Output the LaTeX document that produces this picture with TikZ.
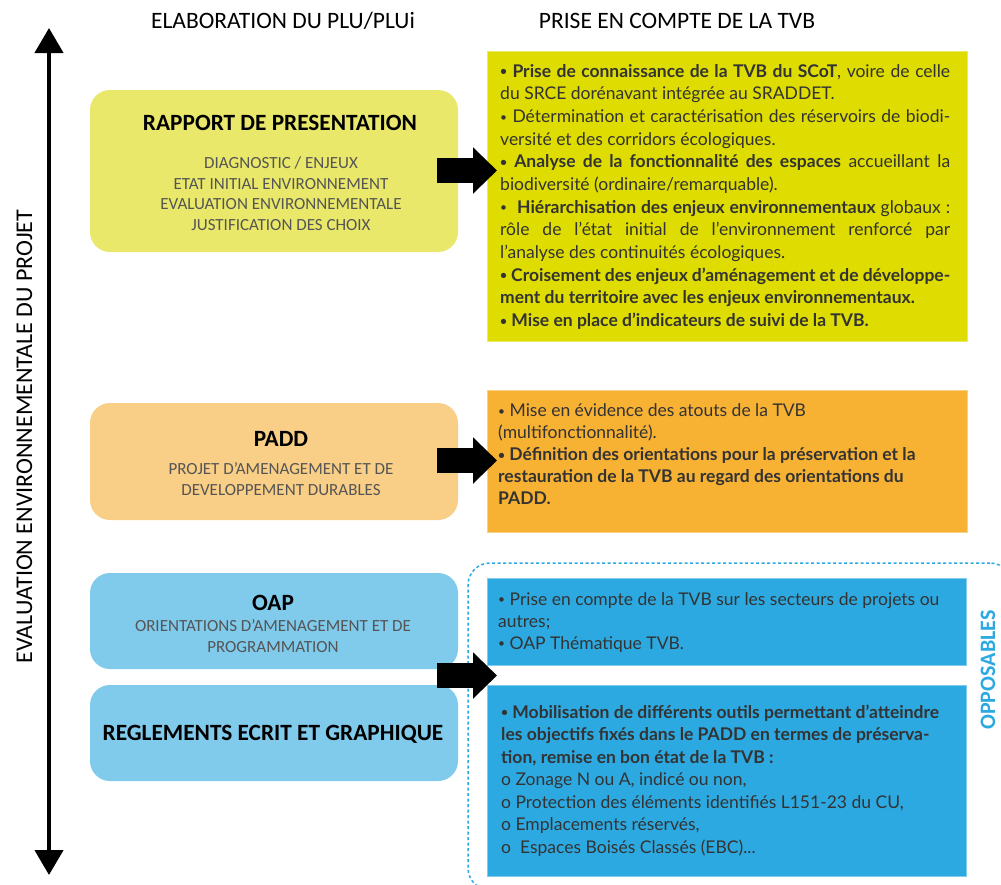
\documentclass[tikz,border=0pt]{standalone}
\usepackage{fontspec}
\setmainfont{Carlito}
\newfontfamily\rfont{Lato}
\usetikzlibrary{arrows.meta}
\definecolor{lyel}{HTML}{E9E86A}
\definecolor{ryel}{HTML}{DEDC00}
\definecolor{lora}{HTML}{F9CE86}
\definecolor{rora}{HTML}{F7B133}
\definecolor{lblu}{HTML}{80CAEB}
\definecolor{rblu}{HTML}{2DA9E1}
\definecolor{subg}{HTML}{555555}
\definecolor{txtg}{HTML}{333333}
\newcommand\bul{\raisebox{1.3pt}{\fontsize{12}{12}\selectfont •}}
\begin{document}
\begin{tikzpicture}[x=1pt,y=-1pt,
  lbox/.style={rounded corners=20pt, inner sep=0, minimum width=368pt},
  rbox/.style={inner sep=0, minimum width=480pt, line width=0.8pt},
  title/.style={anchor=base, font=\fontsize{23.3}{27}\selectfont\bfseries, text=black, inner sep=0},
  sub/.style={anchor=base, font=\fontsize{17}{20.5}\selectfont, text=subg, align=center, inner sep=0},
  header/.style={anchor=base, font=\fontsize{23.5}{27}\selectfont, inner sep=0},
  rtext/.style={anchor=base west, inner sep=0, text=txtg},
  blockarrow/.style={line width=25pt, -{Triangle[width=45pt,length=24pt]}},
  bigtip/.style={line width=4.5pt, {Triangle[width=28pt,length=25pt]}-{Triangle[width=28pt,length=25pt]}},
]
\fill[white] (0,0) rectangle (1001,884);
\useasboundingbox (0,0) rectangle (1001,884);

% headers
\node[header] (h1) at (283,28) {ELABORATION DU PLU/PLUi};
\node[header] (h2) at (677,28) {PRISE EN COMPTE DE LA TVB};

% vertical axis
\coordinate (vtop) at (49,28);
\coordinate (vbot) at (49,875);
\draw[bigtip] (vtop) -- (vbot);
\node[rotate=90, anchor=base, font=\fontsize{24}{28}\selectfont, inner sep=0] (evl) at (32,436.5) {EVALUATION ENVIRONNEMENTALE DU PROJET};

% opposables frame
\begin{scope}
\clip (0,0) rectangle (1001,884);
\node[draw=rblu, line width=1.5pt, dash pattern=on 3pt off 2.5pt, rounded corners=22pt,
  minimum width=544pt, minimum height=327pt, inner sep=0] (frame) at (740,726.5) {};
\end{scope}
\node[rotate=90, anchor=base, font=\fontsize{22}{26}\selectfont\bfseries, text=rblu, inner sep=0] (opp) at (995,670) {OPPOSABLES};

% left boxes
\node[lbox, fill=lyel, minimum height=162pt] (rapport) at (274,171) {};
\node[lbox, fill=lora, minimum height=117pt] (padd) at (274,461.5) {};
\node[lbox, fill=lblu, minimum height=96pt] (oap) at (274,621) {};
\node[lbox, fill=lblu, minimum height=96pt] (regl) at (274,733) {};

\node[title] (rt) at (280,130) {RAPPORT DE PRESENTATION};
\node[sub] (rs) at (281,230) {DIAGNOSTIC / ENJEUX\\ETAT INITIAL ENVIRONNEMENT\\EVALUATION ENVIRONNEMENTALE\\JUSTIFICATION DES CHOIX};
\node[title] (pt) at (281,446) {PADD};
\node[sub] (ps) at (281,495) {PROJET D’AMENAGEMENT ET DE\\DEVELOPPEMENT DURABLES};
\node[title] (ot) at (273,610) {OAP};
\node[sub] (os) at (273,652) {ORIENTATIONS D’AMENAGEMENT ET DE\\PROGRAMMATION};
\node[title] (gt) at (273,740) {REGLEMENTS ECRIT ET GRAPHIQUE};

% right boxes
\node[rbox, fill=ryel, draw=ryel!60!white, minimum height=290pt] (yel) at (727,196) {};
\node[rbox, fill=rora, draw=rora!60!white, minimum height=142pt] (ora) at (727,461) {};
\node[rbox, fill=rblu, draw=rblu!60!white, minimum width=479pt, minimum height=87pt] (blu1) at (726.5,621.5) {};
\node[rbox, fill=rblu, draw=rblu!60!white, minimum width=479pt, minimum height=191pt] (blu2) at (726.5,780.5) {};

\node[rtext] (yt) at (500,77) {\parbox[t]{450pt}{\rfont\fontsize{17.5}{22.68}\selectfont
{\bfseries \bul\ Prise de connaissance de la TVB du SCoT}, voire de celle\linebreak du SRCE dorénavant intégrée au SRADDET.\par
\bul\ Détermination et caractérisation des réservoirs de biodi-\linebreak versité et des corridors écologiques.\par
{\bfseries \bul\ Analyse de la fonctionnalité des espaces} accueillant la\linebreak biodiversité (ordinaire/remarquable).\par
\bul\ \ {\bfseries Hiérarchisation des enjeux environnementaux} globaux~:\linebreak rôle de l’état initial de l’environnement renforcé par\linebreak l’analyse des continuités écologiques.\par
{\bfseries \bul\ Croisement des enjeux d’aménagement et de développe-\linebreak ment du territoire avec les enjeux environnementaux.\par
\bul\ Mise en place d’indicateurs de suivi de la TVB.\par}}};

\node[rtext] (orat) at (498,416.5) {\parbox[t]{460pt}{\rfont\fontsize{17.5}{22.1}\selectfont\raggedright
\bul\ Mise en évidence des atouts de la TVB\\
(multifonctionnalité).\\
{\bfseries \bul\ Définition des orientations pour la préservation et la\\
restauration de la TVB au regard des orientations du\\
PADD.}}};

\node[rtext] (b1t) at (498,605) {\parbox[t]{460pt}{\rfont\fontsize{17.5}{22}\selectfont\raggedright
\bul\ Prise en compte de la TVB sur les secteurs de projets ou\\
autres;\\
\bul\ OAP Thématique TVB.}};

\node[rtext] (b2t) at (501,718) {\parbox[t]{460pt}{\rfont\fontsize{17.5}{22.5}\selectfont\raggedright
{\bfseries \bul\ Mobilisation de différents outils permettant d’atteindre\\
les objectifs fixés dans le PADD en termes de préserva-\\
tion, remise en bon état de la TVB :}\\
o Zonage N ou A, indicé ou non,\\
o Protection des éléments identifiés L151-23 du CU,\\
o Emplacements réservés,\\
o \ Espaces Boisés Classés (EBC)...}};

% block arrows
\coordinate (a1s) at (437,170.5); \coordinate (a1e) at (497,170.5);
\coordinate (a2s) at (437,460.5); \coordinate (a2e) at (497,460.5);
\coordinate (a3s) at (437,675.5); \coordinate (a3e) at (497,675.5);
\draw[blockarrow] (a1s) -- (a1e);
\draw[blockarrow] (a2s) -- (a2e);
\draw[blockarrow] (a3s) -- (a3e);
\end{tikzpicture}
\end{document}
